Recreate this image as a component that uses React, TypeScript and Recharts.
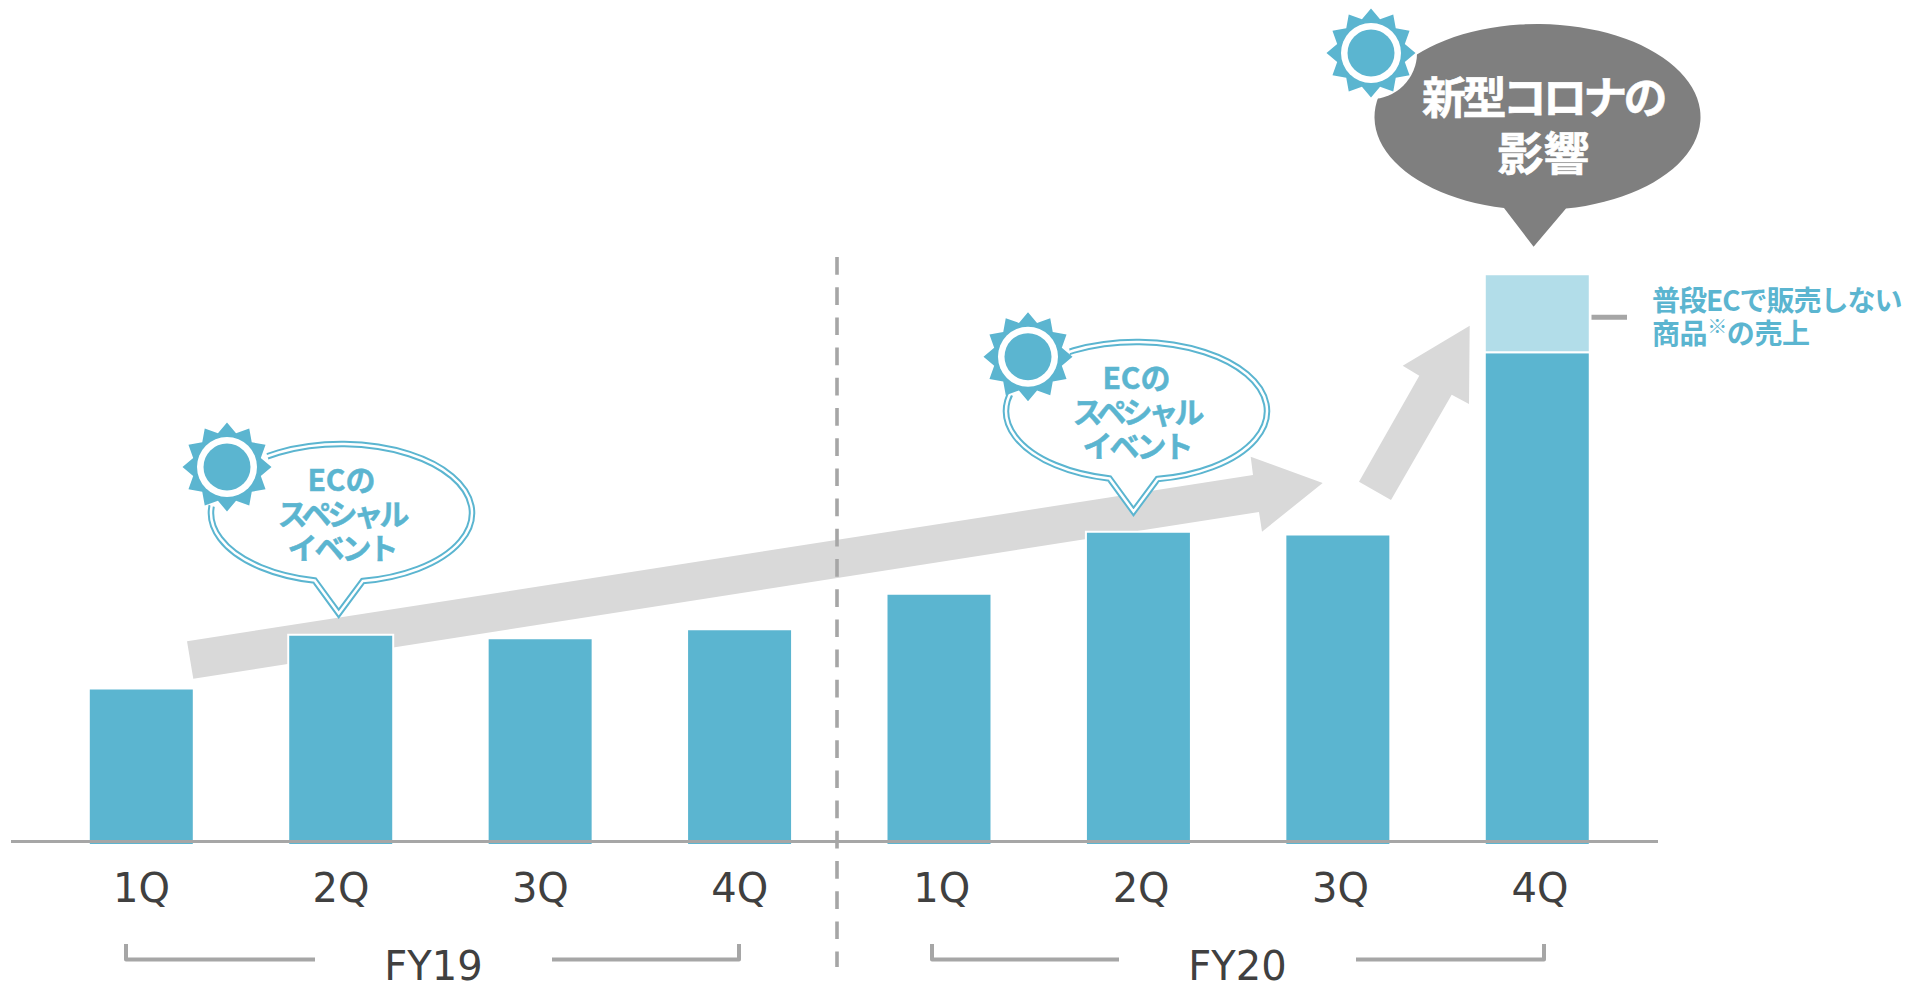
import { Bar, BarChart, ReferenceLine, XAxis, YAxis } from "recharts";

// Quarterly EC sales, indexed (no scale is printed on the chart)
const QUARTERS = ["1Q", "2Q", "3Q", "4Q", "1Q", "2Q", "3Q", "4Q"];
const REGULAR_SALES = [19.56, 26.29, 25.84, 26.96, 31.4, 39.16, 38.8, 61.6];
const EXTRA_SALES = [0, 0, 0, 0, 0, 0, 0, 9.75];

const CHART_DATA = QUARTERS.map((quarter, i) => ({
  quarter,
  regular: REGULAR_SALES[i],
  extra: EXTRA_SALES[i],
}));

const BLUE = "#5bb5d0";
const LIGHT_BLUE = "#b2dde9";
const GREY_LINE = "#a6a6a6";
const GREY_ARROW = "#d9d9d9";
const GREY_BUBBLE = "#7f7f7f";
const TEXT_DARK = "#404040";

const LATIN_FONT = '"DejaVu Sans", Verdana, sans-serif';
const JP_FONT = '"Noto Sans CJK JP", sans-serif';

function Sun({ cx, cy, halo }: { cx: number; cy: number; halo: number }) {
  const points: string[] = [];
  for (let i = 0; i < 24; i++) {
    const r = i % 2 === 0 ? 44.5 : 35;
    const a = (i * Math.PI) / 12;
    points.push(`${cx + r * Math.sin(a)},${cy - r * Math.cos(a)}`);
  }
  return (
    <g>
      <circle cx={cx} cy={cy} r={halo} fill="#fff" />
      <polygon points={points.join(" ")} fill={BLUE} />
      <circle cx={cx} cy={cy} r={30} fill="#fff" />
      <circle cx={cx} cy={cy} r={23.5} fill={BLUE} />
    </g>
  );
}

function bubblePath(cx: number, cy: number, rx: number, ry: number, left: number, right: number, tipX: number, tipY: number) {
  const yAt = (x: number) => cy + ry * Math.sqrt(1 - ((x - cx) / rx) ** 2);
  return `M${right},${yAt(right)} A${rx},${ry} 0 1 0 ${left},${yAt(left)} L${tipX},${tipY} Z`;
}

// Double-outlined speech bubble for the special EC events
function EventBubble({ cx, cy, tipX, tipY }: { cx: number; cy: number; tipX: number; tipY: number }) {
  const d = bubblePath(cx, cy, 130.5, 69, tipX - 24, tipX + 24, tipX, tipY);
  const lines = ["ECの", "スペシャル", "イベント"];
  const spacing = [0, -4, -3];
  return (
    <g>
      <path d={d} fill="#fff" stroke={BLUE} strokeWidth={6.5} />
      <path d={d} fill="none" stroke="#fff" strokeWidth={2.5} />
      {lines.map((line, i) => (
        <text
          key={line}
          x={cx}
          y={cy - 35 + i * 34}
          textAnchor="middle"
          dominantBaseline="central"
          fontFamily={JP_FONT}
          fontWeight={700}
          fontSize={30}
          letterSpacing={spacing[i]}
          stroke={BLUE}
          strokeWidth={0.5}
          fill={BLUE}
        >
          {line}
        </text>
      ))}
    </g>
  );
}

function Bracket({ x1, x2, x3, x4 }: { x1: number; x2: number; x3: number; x4: number }) {
  const props = { fill: "none", stroke: GREY_LINE, strokeWidth: 4, strokeLinejoin: "round" as const };
  return (
    <g>
      <path d={`M${x1},944 V959.5 H${x2}`} {...props} />
      <path d={`M${x3},959.5 H${x4} V944`} {...props} />
    </g>
  );
}

function FiscalLabel({ x, label }: { x: number; label: string }) {
  return (
    <text x={x} y={980} textAnchor="middle" fontFamily={LATIN_FONT} fontSize={40} fill={TEXT_DARK}>
      {label}
    </text>
  );
}

// FY20 labels sit a little to the right of their bars
function QuarterTick({ x, y, index, payload }: any) {
  return (
    <text
      x={x + (index > 3 ? 2.5 : 0)}
      y={y + 31}
      textAnchor="middle"
      fontFamily={LATIN_FONT}
      fontSize={40}
      fill={TEXT_DARK}
    >
      {payload.value}
    </text>
  );
}

export default function App() {
  return (
    <div style={{ position: "absolute", left: 0, top: 0, width: 1905, height: 983 }}>
      <BarChart
        width={1905}
        height={983}
        data={CHART_DATA}
        margin={{ top: 45, right: 247, bottom: 0, left: 11 }}
        barSize={105}
      >
        {/* growth arrows sit behind the bars */}
        <polygon
          points="187,641.3 1253,475 1250.7,456.7 1322.7,483 1262,531.7 1259,512 193.3,678.7"
          fill={GREY_ARROW}
        />
        <polygon
          points="1359,481.7 1419.3,375.7 1402.7,365.7 1469.7,325.7 1469,404 1451.7,394.7 1391,500"
          fill={GREY_ARROW}
        />

        <XAxis
          dataKey="quarter"
          height={138}
          interval={0}
          axisLine={false}
          tickLine={false}
          tickMargin={20}
          padding={{ left: 30.8, right: 20.8 }}
          tick={QuarterTick}
        />
        <YAxis hide domain={[0, 100]} />
        <Bar dataKey="regular" stackId="sales" fill={BLUE} stroke="#fff" strokeWidth={2} isAnimationActive={false} />
        <Bar dataKey="extra" stackId="sales" fill={LIGHT_BLUE} stroke="#fff" strokeWidth={2} isAnimationActive={false} />
        <ReferenceLine y={0.44} stroke={GREY_LINE} strokeWidth={3} />

        {/* divider between the fiscal years */}
        <line x1={837} y1={257} x2={837} y2={967} stroke={GREY_LINE} strokeWidth={3.6} strokeDasharray="17.7 12.5" />

        <Bracket x1={126} x2={315} x3={552} x4={739} />
        <FiscalLabel x={433.5} label="FY19" />
        <Bracket x1={932} x2={1119} x3={1356} x4={1544} />
        <FiscalLabel x={1237.5} label="FY20" />

        <EventBubble cx={341.5} cy={513} tipX={338.7} tipY={613.5} />
        <Sun cx={227} cy={467} halo={42} />
        <EventBubble cx={1136.5} cy={411} tipX={1133.5} tipY={511.5} />
        <Sun cx={1028} cy={356.7} halo={42} />

        {/* COVID callout above the last bar */}
        <path d={bubblePath(1537.5, 117, 163, 93, 1504, 1566, 1533.6, 246.7)} fill={GREY_BUBBLE} />
        <Sun cx={1371} cy={53} halo={46} />
        <text x={1543} y={95} textAnchor="middle" dominantBaseline="central" fontFamily={JP_FONT} fontWeight={700} fontSize={44} letterSpacing={-3.7} stroke="#fff" strokeWidth={0.6} fill="#fff">
          新型コロナの
        </text>
        <text x={1543.5} y={150} textAnchor="middle" dominantBaseline="central" fontFamily={JP_FONT} fontWeight={700} fontSize={46} stroke="#fff" strokeWidth={0.6} fill="#fff">
          影響
        </text>

        {/* note for the light segment */}
        <line x1={1591.5} y1={317.3} x2={1627} y2={317.3} stroke={GREY_LINE} strokeWidth={5} />
        <text x={1652} y={299} dominantBaseline="central" fontFamily={JP_FONT} fontWeight={700} fontSize={28} letterSpacing={-1} fill={BLUE}>
          普段ECで販売しない
        </text>
        <text x={1652} y={332} dominantBaseline="central" fontFamily={JP_FONT} fontWeight={700} fontSize={28} letterSpacing={-0.4} fill={BLUE}>
          商品
          <tspan fontSize={20} fontWeight={400} dy={-7}>※</tspan>
          <tspan dy={7}>の売上</tspan>
        </text>
      </BarChart>
    </div>
  );
}
